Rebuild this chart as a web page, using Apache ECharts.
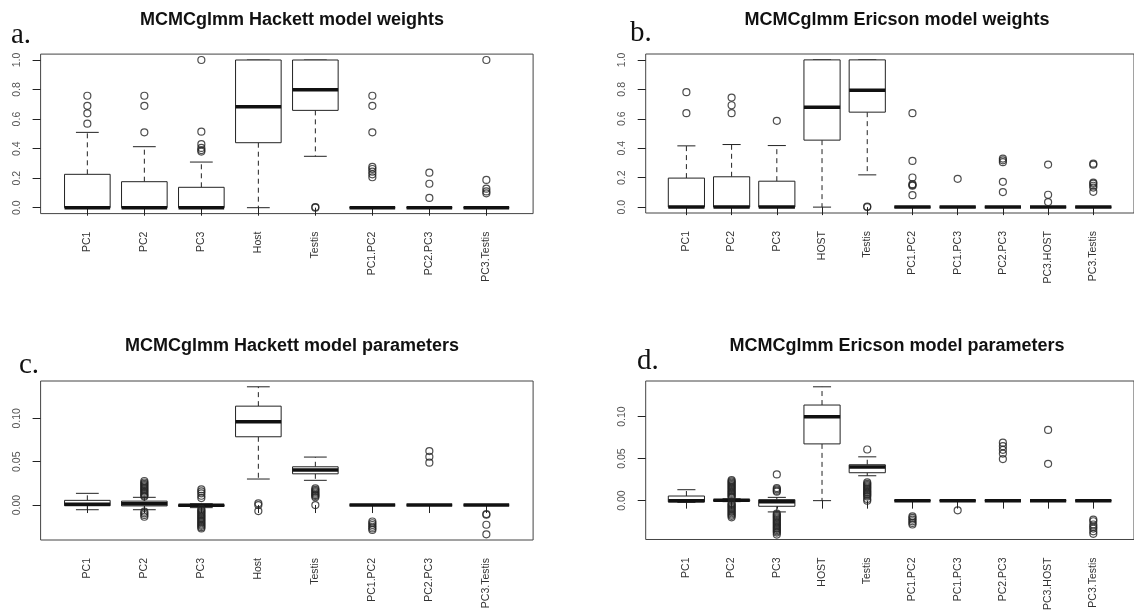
<!DOCTYPE html>
<html><head><meta charset="utf-8">
<script src="https://cdn.jsdelivr.net/npm/echarts@6/dist/echarts.min.js"></script>
<style>html,body{margin:0;padding:0;background:#fff}#chart{width:1134px;height:613px}</style>
</head><body><div id="chart"></div>
<script>
// ---------- Panel a: MCMCglmm Hackett model weights ----------
const catsA = ['PC1','PC2','PC3','Host','Testis','PC1.PC2','PC2.PC3','PC3.Testis'];
const aLow  = [0, 0, 0, 0, 0.348, 0, 0, 0];
const aQ1   = [0, 0, 0, 0.44, 0.659, 0, 0, 0];
const aMed  = [0, 0, 0, 0.684, 0.799, 0, 0, 0];
const aQ3   = [0.226, 0.176, 0.138, 1.0, 1.0, 0, 0, 0];
const aHigh = [0.51, 0.413, 0.309, 1.0, 1.0, 0, 0, 0];
const aOut  = [
  [0.758, 0.69, 0.639, 0.569],
  [0.758, 0.69, 0.51],
  [1.0, 0.515, 0.43, 0.405, 0.39, 0.38],
  [],
  [0, 0.004],
  [0.758, 0.69, 0.51, 0.276, 0.262, 0.244, 0.226, 0.206],
  [0.237, 0.162, 0.066],
  [1.0, 0.188, 0.129, 0.11, 0.097]
];

// ---------- Panel b: MCMCglmm Ericson model weights ----------
const catsB = ['PC1','PC2','PC3','HOST','Testis','PC1.PC2','PC1.PC3','PC2.PC3','PC3.HOST','PC3.Testis'];
const bLow  = [0, 0, 0, 0, 0.219, 0, 0, 0, 0, 0];
const bQ1   = [0, 0, 0, 0.455, 0.645, 0, 0, 0, 0, 0];
const bMed  = [0, 0, 0, 0.679, 0.794, 0, 0, 0, 0, 0];
const bQ3   = [0.197, 0.206, 0.176, 1.0, 1.0, 0, 0, 0, 0, 0];
const bHigh = [0.416, 0.425, 0.418, 1.0, 1.0, 0, 0, 0, 0, 0];
const bOut  = [
  [0.781, 0.638],
  [0.744, 0.692, 0.638],
  [0.586],
  [],
  [0, 0.004],
  [0.638, 0.314, 0.201, 0.156, 0.15, 0.145, 0.081],
  [0.192],
  [0.33, 0.318, 0.305, 0.172, 0.102],
  [0.289, 0.084, 0.034],
  [0.295, 0.288, 0.167, 0.159, 0.145, 0.133, 0.104]
];

// ---------- Panel c: MCMCglmm Hackett model parameters ----------
const catsC = ['PC1','PC2','PC3','Host','Testis','PC1.PC2','PC2.PC3','PC3.Testis'];
const cLow  = [-0.0054, -0.0054, -0.003, 0.030, 0.0285, 0, 0, 0];
const cQ1   = [-0.0008, -0.001, -0.0015, 0.0787, 0.036, 0, 0, 0];
const cMed  = [0.001, 0.0015, -0.0003, 0.096, 0.0403, 0, 0, 0];
const cQ3   = [0.0054, 0.0045, 0.0005, 0.114, 0.0441, 0, 0, 0];
const cHigh = [0.0135, 0.0089, 0.0015, 0.1363, 0.0553, 0, 0, 0];
const cOut  = [
  [],
  [0.0277, 0.026, 0.0245, 0.023, 0.0215, 0.02, 0.0185, 0.017, 0.0155, 0.014, 0.0125, 0.011, 0.0098, -0.0077, -0.0095, -0.0115, -0.0135],
  [0.018, 0.0157, 0.0135, 0.0107, 0.008, -0.0045, -0.006, -0.0075, -0.009, -0.0105, -0.012, -0.0135, -0.015, -0.0165, -0.018, -0.0195, -0.021, -0.0225, -0.024, -0.0255, -0.0269],
  [0.002, 0.0, -0.0069],
  [0.0192, 0.0175, 0.016, 0.0145, 0.013, 0.0115, 0.0105, 0.009, 0.0],
  [-0.019, -0.021, -0.023, -0.025, -0.027, -0.0288],
  [0.0622, 0.0557, 0.0488],
  [-0.0104, -0.0112, -0.0227, -0.0338]
];

// ---------- Panel d: MCMCglmm Ericson model parameters ----------
const catsD = ['PC1','PC2','PC3','HOST','Testis','PC1.PC2','PC1.PC3','PC2.PC3','PC3.HOST','PC3.Testis'];
const dLow  = [-0.002, -0.0012, -0.0134, 0, 0.0296, 0, 0, 0, 0, 0];
const dQ1   = [-0.0015, -0.0006, -0.0067, 0.0675, 0.0332, 0, 0, 0, 0, 0];
const dMed  = [0.0, 0.0004, -0.0012, 0.0999, 0.0399, 0, 0, 0, 0, 0];
const dQ3   = [0.0055, 0.0012, 0.0012, 0.1137, 0.0427, 0, 0, 0, 0, 0];
const dHigh = [0.013, 0.0022, 0.0039, 0.1354, 0.0521, 0, 0, 0, 0, 0];
const dOut  = [
  [],
  [0.0245, 0.023, 0.0215, 0.02, 0.0185, 0.017, 0.0155, 0.014, 0.0125, 0.011, 0.0095, 0.008, 0.0065, 0.005, 0.0035, -0.003, -0.0045, -0.006, -0.0075, -0.009, -0.0105, -0.012, -0.0135, -0.015, -0.0165, -0.018, -0.0198],
  [0.0312, 0.015, 0.0135, 0.0118, 0.0107, -0.0155, -0.017, -0.0185, -0.02, -0.0215, -0.023, -0.0245, -0.026, -0.0275, -0.029, -0.0305, -0.032, -0.0335, -0.035, -0.0365, -0.038, -0.0403],
  [],
  [0.0608, 0.0217, 0.02, 0.0185, 0.017, 0.0155, 0.014, 0.0125, 0.011, 0.0095, 0.008, 0.0065, 0.005, 0.002, 0.0],
  [-0.0186, -0.0205, -0.0225, -0.0245, -0.0265, -0.0284],
  [-0.0115],
  [0.069, 0.0648, 0.0604, 0.056, 0.0494],
  [0.0841, 0.0438],
  [-0.0225, -0.0245, -0.0284, -0.031, -0.0332, -0.0365, -0.0395]
];

// tick values
const weightTicks = [0, 0.2, 0.4, 0.6, 0.8, 1.0];
const paramTicks  = [0, 0.05, 0.10];
const posTicks8   = [1, 2, 3, 4, 5, 6, 7, 8];
const posTicks10  = [1, 2, 3, 4, 5, 6, 7, 8, 9, 10];

const titles  = ['MCMCglmm Hackett model weights', 'MCMCglmm Ericson model weights',
                 'MCMCglmm Hackett model parameters', 'MCMCglmm Ericson model parameters'];
const letters = ['a.', 'b.', 'c.', 'd.'];

// ---------- layout ----------
const INK = '#222';
const panels = [
  {cats: catsA, lo: aLow, q1: aQ1, med: aMed, q3: aQ3, hi: aHigh, out: aOut, ticks: weightTicks, dec: 1, xt: posTicks8,
   grid: {left: 40.6, top: 54.1, width: 492.5, height: 159.5}, xr: [0.18, 8.82], yr: [-0.04, 1.04],
   title: {left: 287, top: 6}, letter: {left: 6, top: 16}},
  {cats: catsB, lo: bLow, q1: bQ1, med: bMed, q3: bQ3, hi: bHigh, out: bOut, ticks: weightTicks, dec: 1, xt: posTicks10,
   grid: {left: 645.7, top: 54, width: 492.5, height: 159}, xr: [0.1, 10.9], yr: [-0.04, 1.04],
   title: {left: 892, top: 6}, letter: {left: 625, top: 14}},
  {cats: catsC, lo: cLow, q1: cQ1, med: cMed, q3: cQ3, hi: cHigh, out: cOut, ticks: paramTicks, dec: 2, xt: posTicks8,
   grid: {left: 40.6, top: 381, width: 492.5, height: 159}, xr: [0.18, 8.82], yr: [-0.0403, 0.143],
   title: {left: 287, top: 332}, letter: {left: 14, top: 346}},
  {cats: catsD, lo: dLow, q1: dQ1, med: dMed, q3: dQ3, hi: dHigh, out: dOut, ticks: paramTicks, dec: 2, xt: posTicks10,
   grid: {left: 645.7, top: 381, width: 492.5, height: 159}, xr: [0.1, 10.9], yr: [-0.0462, 0.1423],
   title: {left: 892, top: 332}, letter: {left: 632, top: 342}}
];

function boxRender(params, api) {
  const x = api.value(0), lo = api.value(1), q1 = api.value(2), med = api.value(3), q3 = api.value(4), hi = api.value(5);
  const c = (a, b) => api.coord([a, b]);
  const ln = (p1, p2, style) => ({type: 'line', shape: {x1: p1[0], y1: p1[1], x2: p2[0], y2: p2[1]}, style});
  const thin = {stroke: INK, lineWidth: 1};
  const dash = {stroke: INK, lineWidth: 1, lineDash: [5, 4]};
  const tl = c(x - 0.4, q3), br = c(x + 0.4, q1);
  return {type: 'group', children: [
    ln(c(x, q3), c(x, hi), dash),
    ln(c(x, q1), c(x, lo), dash),
    ln(c(x - 0.2, hi), c(x + 0.2, hi), thin),
    ln(c(x - 0.2, lo), c(x + 0.2, lo), thin),
    {type: 'rect', shape: {x: tl[0], y: tl[1], width: br[0] - tl[0], height: br[1] - tl[1]},
     style: {fill: '#fff', stroke: INK, lineWidth: 1}},
    ln(c(x - 0.4, med), c(x + 0.4, med), {stroke: '#111', lineWidth: 3.5})
  ]};
}

const option = {
  animation: false,
  backgroundColor: '#fff',
  title: [], grid: [], xAxis: [], yAxis: [], series: []
};

panels.forEach((p, i) => {
  option.title.push({
    text: titles[i], left: p.title.left, top: p.title.top, textAlign: 'center',
    textStyle: {fontFamily: 'Liberation Sans', fontWeight: 'bold', fontSize: 18, color: '#111'}
  });
  option.title.push({
    text: letters[i], left: p.letter.left, top: p.letter.top,
    textStyle: {fontFamily: 'Liberation Serif', fontWeight: 'normal', fontSize: 29, color: '#111'}
  });
  option.grid.push(Object.assign({show: true, borderColor: '#444', borderWidth: 1, backgroundColor: 'transparent', containLabel: false}, p.grid));
  option.xAxis.push({
    type: 'value', gridIndex: i, min: p.xr[0], max: p.xr[1],
    splitLine: {show: false}, axisLine: {show: false},
    axisTick: {show: true, customValues: p.xt, length: 8, lineStyle: {color: INK, width: 1}},
    axisLabel: {show: true, customValues: p.xt, rotate: 90, margin: 18,
      fontFamily: 'Liberation Sans', fontSize: 10.5, color: '#333',
      formatter: v => p.cats[Math.round(v) - 1]}
  });
  option.yAxis.push({
    type: 'value', gridIndex: i, min: p.yr[0], max: p.yr[1],
    splitLine: {show: false}, axisLine: {show: false},
    axisTick: {show: true, customValues: p.ticks, length: 8, lineStyle: {color: INK, width: 1}},
    axisLabel: {show: true, customValues: p.ticks, rotate: 90, margin: 18,
      fontFamily: 'Liberation Sans', fontSize: 10.5, color: '#555',
      formatter: v => Number(v).toFixed(p.dec)}
  });
  option.series.push({
    type: 'custom', xAxisIndex: i, yAxisIndex: i, renderItem: boxRender, silent: true,
    data: p.cats.map((_, k) => [k + 1, p.lo[k], p.q1[k], p.med[k], p.q3[k], p.hi[k]])
  });
  option.series.push({
    type: 'scatter', xAxisIndex: i, yAxisIndex: i, silent: true,
    symbol: 'circle', symbolSize: 7,
    itemStyle: {color: 'transparent', borderColor: INK, borderWidth: 1.2},
    data: p.out.flatMap((vals, k) => vals.map(v => [k + 1, v])),
    z: 3
  });
});

const chart = echarts.init(document.getElementById('chart'), null, {renderer: 'canvas'});
chart.setOption(option);
</script>
</body></html>
